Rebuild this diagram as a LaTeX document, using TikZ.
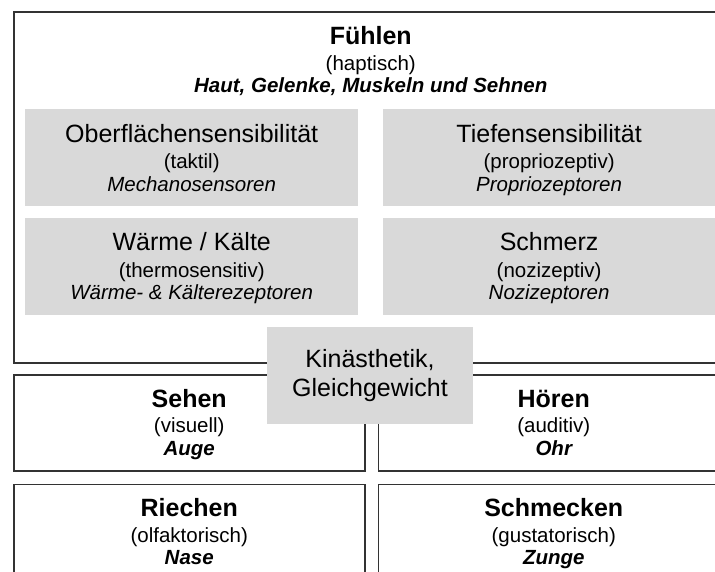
\documentclass[tikz,border=0pt]{standalone}
\usepackage{fontspec}
\setmainfont{Liberation Sans}
\usepackage{tikz}
\usetikzlibrary{positioning}

\newcommand{\titlesize}{\fontsize{25}{29}\selectfont}
\newcommand{\subsize}{\fontsize{20.5}{22.5}\selectfont}

\begin{document}
\begin{tikzpicture}[x=1pt, y=-1pt,
    rahmen/.style = {draw=black!80, line width=1.5pt, anchor=north west, inner sep=0pt},
    sinn/.style = {rahmen, minimum width=351pt, minimum height=96pt},
    feld/.style = {fill=gray!30, anchor=north west, inner sep=0pt, minimum width=333pt, minimum height=97pt},
    txt/.style = {anchor=north, align=center, inner sep=0pt, font=\subsize}]
            \useasboundingbox (0,0) rectangle (715,571);
            \clip (0,0) rectangle (715,571);

            % Fuehlen
            \node[rahmen, minimum width=714pt, minimum height=351pt] (fuehlen) at (13,11) {};
            \node[txt] (fuehlen-t) at ([yshift=-10pt]fuehlen.north) {{\titlesize\bfseries\rule{0pt}{23pt}Fühlen}\\[3.5pt](haptisch)\\{\bfseries\itshape Haut, Gelenke, Muskeln und Sehnen}};

            \node[feld] (oberfl) at (25,109) {};
            \node[feld, right=24pt of oberfl] (tiefe) {};
            \node[feld, below=11pt of oberfl] (waerme) {};
            \node[feld, right=24pt of waerme] (schmerz) {};

            \node[txt] (oberfl-t) at ([yshift=-10pt]oberfl.north) {{\titlesize\rule{0pt}{23pt}Oberflächensensibilität}\\[4pt](taktil)\\\textit{Mechanosensoren}};
            \node[txt] (tiefe-t) at ([yshift=-10pt]tiefe.north) {{\titlesize\rule{0pt}{23pt}Tiefensensibilität}\\[4pt](propriozeptiv)\\\textit{Propriozeptoren}};
            \node[txt] (waerme-t) at ([yshift=-10pt]waerme.north) {{\titlesize\rule{0pt}{23pt}Wärme / Kälte}\\[4pt](thermosensitiv)\\\textit{Wärme- \& Kälterezeptoren}};
            \node[txt] (schmerz-t) at ([yshift=-10pt]schmerz.north) {{\titlesize\rule{0pt}{23pt}Schmerz}\\[4pt](nozizeptiv)\\\textit{Nozizeptoren}};

            % andere Sinne
            \node[sinn] (sehen) at (13,374) {};
            \node[sinn, right=12pt of sehen] (hoeren) {};
            \node[sinn, below=12pt of sehen, minimum height=112pt] (riechen) {};
            \node[sinn, right=12pt of riechen, minimum height=112pt] (schmecken) {};

            \node[txt] (sehen-t) at ([yshift=-10pt]sehen.north) {{\titlesize\bfseries\rule{0pt}{23pt}Sehen}\\[3pt](visuell)\\{\bfseries\itshape Auge}};
            \node[txt] (hoeren-t) at ([yshift=-10pt]hoeren.north) {{\titlesize\bfseries\rule{0pt}{23pt}Hören}\\[3pt](auditiv)\\{\bfseries\itshape Ohr}};
            \node[txt] (riechen-t) at ([yshift=-10pt]riechen.north) {{\titlesize\bfseries\rule{0pt}{23pt}Riechen}\\[3pt](olfaktorisch)\\{\bfseries\itshape Nase}};
            \node[txt] (schmecken-t) at ([yshift=-10pt]schmecken.north) {{\titlesize\bfseries\rule{0pt}{23pt}Schmecken}\\[3pt](gustatorisch)\\{\bfseries\itshape Zunge}};

            \node[feld, anchor=center, minimum width=206pt, align=center, font=\titlesize] (kin) at (370,375.5) {Kinästhetik,\\Gleichgewicht};
        \end{tikzpicture}
\end{document}
